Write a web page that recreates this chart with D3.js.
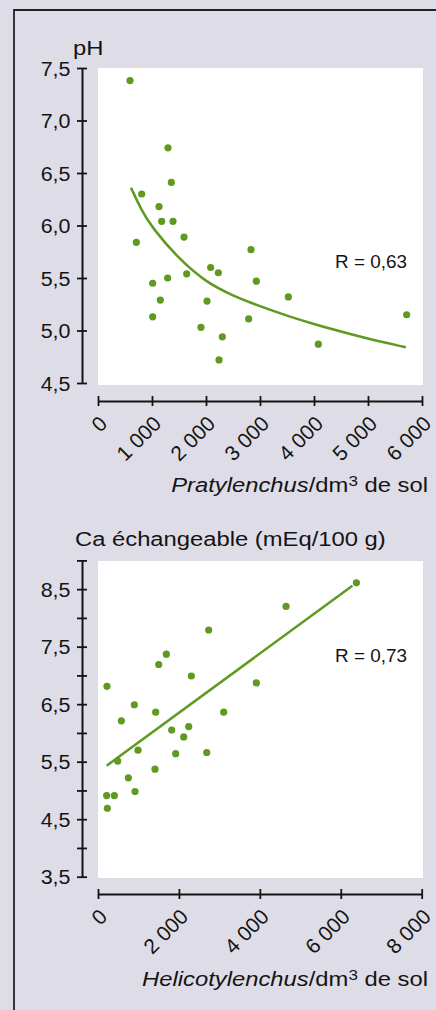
<!DOCTYPE html>
<html>
<head>
<meta charset="utf-8">
<script src="https://cdn.jsdelivr.net/npm/d3@7"></script>
<style>
  html, body { margin: 0; padding: 0; background: #dedde7; }
  svg { display: block; font-family: "Liberation Sans", Arial, sans-serif; }
</style>
</head>
<body>
<svg id="chart" width="436" height="1010"></svg>
<script>
// Top panel: pH vs Pratylenchus
const pratX  = [593, 1296, 1358, 809, 1130, 1179, 1389, 710, 1593, 2833, 2086, 2228, 1642,
                1012, 1290, 2932, 1154, 2019, 3525, 1012, 2790, 1907, 2302, 2241, 4080, 5716];
const pratPH = [7.38, 6.74, 6.41, 6.30, 6.18, 6.04, 6.04, 5.84, 5.89, 5.77, 5.60, 5.55, 5.54,
                5.45, 5.50, 5.47, 5.29, 5.28, 5.32, 5.13, 5.11, 5.03, 4.94, 4.72, 4.87, 5.15];
// trend curve
const pratCurveX  = [611, 800, 1000, 1500, 2000, 2500, 3000, 3500, 4000, 4500, 5000, 5700];
const pratCurvePH = [6.36, 6.15, 5.98, 5.68, 5.46, 5.33, 5.23, 5.14, 5.06, 4.99, 4.92, 4.84];
const pratTicksX = [0, 1000, 2000, 3000, 4000, 5000, 6000];
const pratTicksY = [4.5, 5.0, 5.5, 6.0, 6.5, 7.0, 7.5];

// Bottom panel: exchangeable Ca vs Helicotylenchus
const heliX  = [6386, 4648, 2736, 1689, 1500, 2307, 3914, 222, 898, 1426, 3107, 577, 2242,
                1821, 2118, 989, 1920, 2687, 487, 1409, 750, 915, 214, 404, 231];
const heliCa = [8.61, 8.20, 7.79, 7.37, 7.19, 6.99, 6.87, 6.81, 6.49, 6.36, 6.36, 6.21, 6.11,
                6.05, 5.93, 5.70, 5.64, 5.66, 5.51, 5.37, 5.22, 4.98, 4.91, 4.91, 4.69];
const heliLineX  = [214, 6288];
const heliLineCa = [5.43, 8.56];
const heliTicksX = [0, 2000, 4000, 6000, 8000];
const heliTicksY = [3.5, 4.5, 5.5, 6.5, 7.5, 8.5];
const heliMinorY = [4, 5, 6, 7, 8, 9];

const green = "#5e9a20";
const ink = "#141414";
const fr = d3.formatLocale({ decimal: ",", thousands: " ", grouping: [3], currency: ["", ""] });
const fmtY = fr.format(".1f");
const fmtX = fr.format(",d");

const svg = d3.select("#chart");

// frame
svg.append("path")
  .attr("d", "M14,1010 V10 H436")
  .attr("fill", "none")
  .attr("stroke", "#222")
  .attr("stroke-width", 1.8);

function drawPanel(p) {
  const x = d3.scaleLinear().domain(p.xDomain).range([98, p.xEnd]);
  const y = d3.scaleLinear().domain(p.yDomain).range(p.yRange);

  // white plot area
  svg.append("rect")
    .attr("x", 98).attr("y", p.rect[0])
    .attr("width", 325).attr("height", p.rect[1] - p.rect[0])
    .attr("fill", "#fff");

  // y axis
  const gy = svg.append("g")
    .attr("transform", "translate(82,0)")
    .call(d3.axisLeft(y).tickValues(p.yTicks).tickFormat(fmtY).tickSize(5).tickSizeOuter(0));
  if (p.yMinor) {
    gy.append("g").call(d3.axisLeft(y).tickValues(p.yMinor).tickFormat("").tickSize(5).tickSizeOuter(0))
      .select(".domain").remove();
  }
  gy.selectAll(".tick line").attr("x1", 5).attr("x2", -5).attr("stroke", ink).attr("stroke-width", 1.8);
  gy.select(".domain").attr("stroke", ink).attr("stroke-width", 2);
  gy.selectAll(".tick text")
    .attr("x", -10.5)
    .attr("dy", "0.36em")
    .attr("transform", "scale(1.1,1)")
    .attr("font-size", 19.5)
    .attr("fill", ink);

  // x axis
  const gx = svg.append("g")
    .attr("transform", `translate(0,${p.xAxisY})`)
    .call(d3.axisBottom(x).tickValues(p.xTicks).tickFormat(fmtX).tickSize(5).tickSizeOuter(0));
  gx.selectAll(".tick line").attr("y1", -5).attr("y2", 5).attr("stroke", ink).attr("stroke-width", 1.8);
  gx.select(".domain").attr("stroke", ink).attr("stroke-width", 2);
  gx.selectAll(".tick text")
    .attr("x", 0).attr("y", 0).attr("dy", 0)
    .attr("text-anchor", "end")
    .attr("transform", "translate(10,24) rotate(-45)")
    .attr("font-size", 21)
    .attr("fill", ink);

  // trend
  const line = d3.line().x(d => x(d[0])).y(d => y(d[1])).curve(d3.curveBasis);
  svg.append("path")
    .datum(d3.zip(p.trendX, p.trendY))
    .attr("d", line)
    .attr("fill", "none")
    .attr("stroke", green)
    .attr("stroke-width", 2.5);

  // points
  svg.append("g").selectAll("circle")
    .data(d3.zip(p.ptsX, p.ptsY))
    .join("circle")
    .attr("cx", d => x(d[0]))
    .attr("cy", d => y(d[1]))
    .attr("r", 3.6)
    .attr("fill", green);

  // R label
  svg.append("text")
    .attr("transform", `translate(335,${p.rY}) scale(1.05,1)`)
    .attr("font-size", 18)
    .attr("fill", ink)
    .text(p.rText);

  // y title
  svg.append("text")
    .attr("transform", `translate(${p.yTitlePos[0]},${p.yTitlePos[1]}) scale(1.19,1)`)
    .attr("font-size", 20)
    .attr("fill", ink)
    .text(p.yTitle);

  // x title
  const xt = svg.append("text")
    .attr("transform", `translate(428,${p.xTitleY}) scale(1.22,1)`)
    .attr("text-anchor", "end")
    .attr("font-size", 19.5)
    .attr("fill", ink);
  xt.append("tspan").attr("font-style", "italic").text(p.genus);
  xt.append("tspan").text("/dm");
  xt.append("tspan").attr("font-size", 14).attr("dy", -6).text("3");
  xt.append("tspan").attr("dy", 6).text(" de sol");
}

drawPanel({
  xDomain: [0, 6000], xEnd: 422, yDomain: [4.5, 7.5], yRange: [383, 68],
  rect: [68, 385], xAxisY: 401,
  xTicks: pratTicksX, yTicks: pratTicksY,
  ptsX: pratX, ptsY: pratPH, trendX: pratCurveX, trendY: pratCurvePH,
  rText: "R = 0,63", rY: 268,
  yTitle: "pH", yTitlePos: [73, 55],
  genus: "Pratylenchus", xTitleY: 492
});

drawPanel({
  xDomain: [0, 8000], xEnd: 421.7, yDomain: [3.5, 9], yRange: [876.7, 560.4],
  rect: [561, 878], xAxisY: 894,
  xTicks: heliTicksX, yTicks: heliTicksY, yMinor: heliMinorY,
  ptsX: heliX, ptsY: heliCa, trendX: heliLineX, trendY: heliLineCa,
  rText: "R = 0,73", rY: 662,
  yTitle: "Ca échangeable (mEq/100 g)", yTitlePos: [75, 546],
  genus: "Helicotylenchus", xTitleY: 986
});
</script>
</body>
</html>
